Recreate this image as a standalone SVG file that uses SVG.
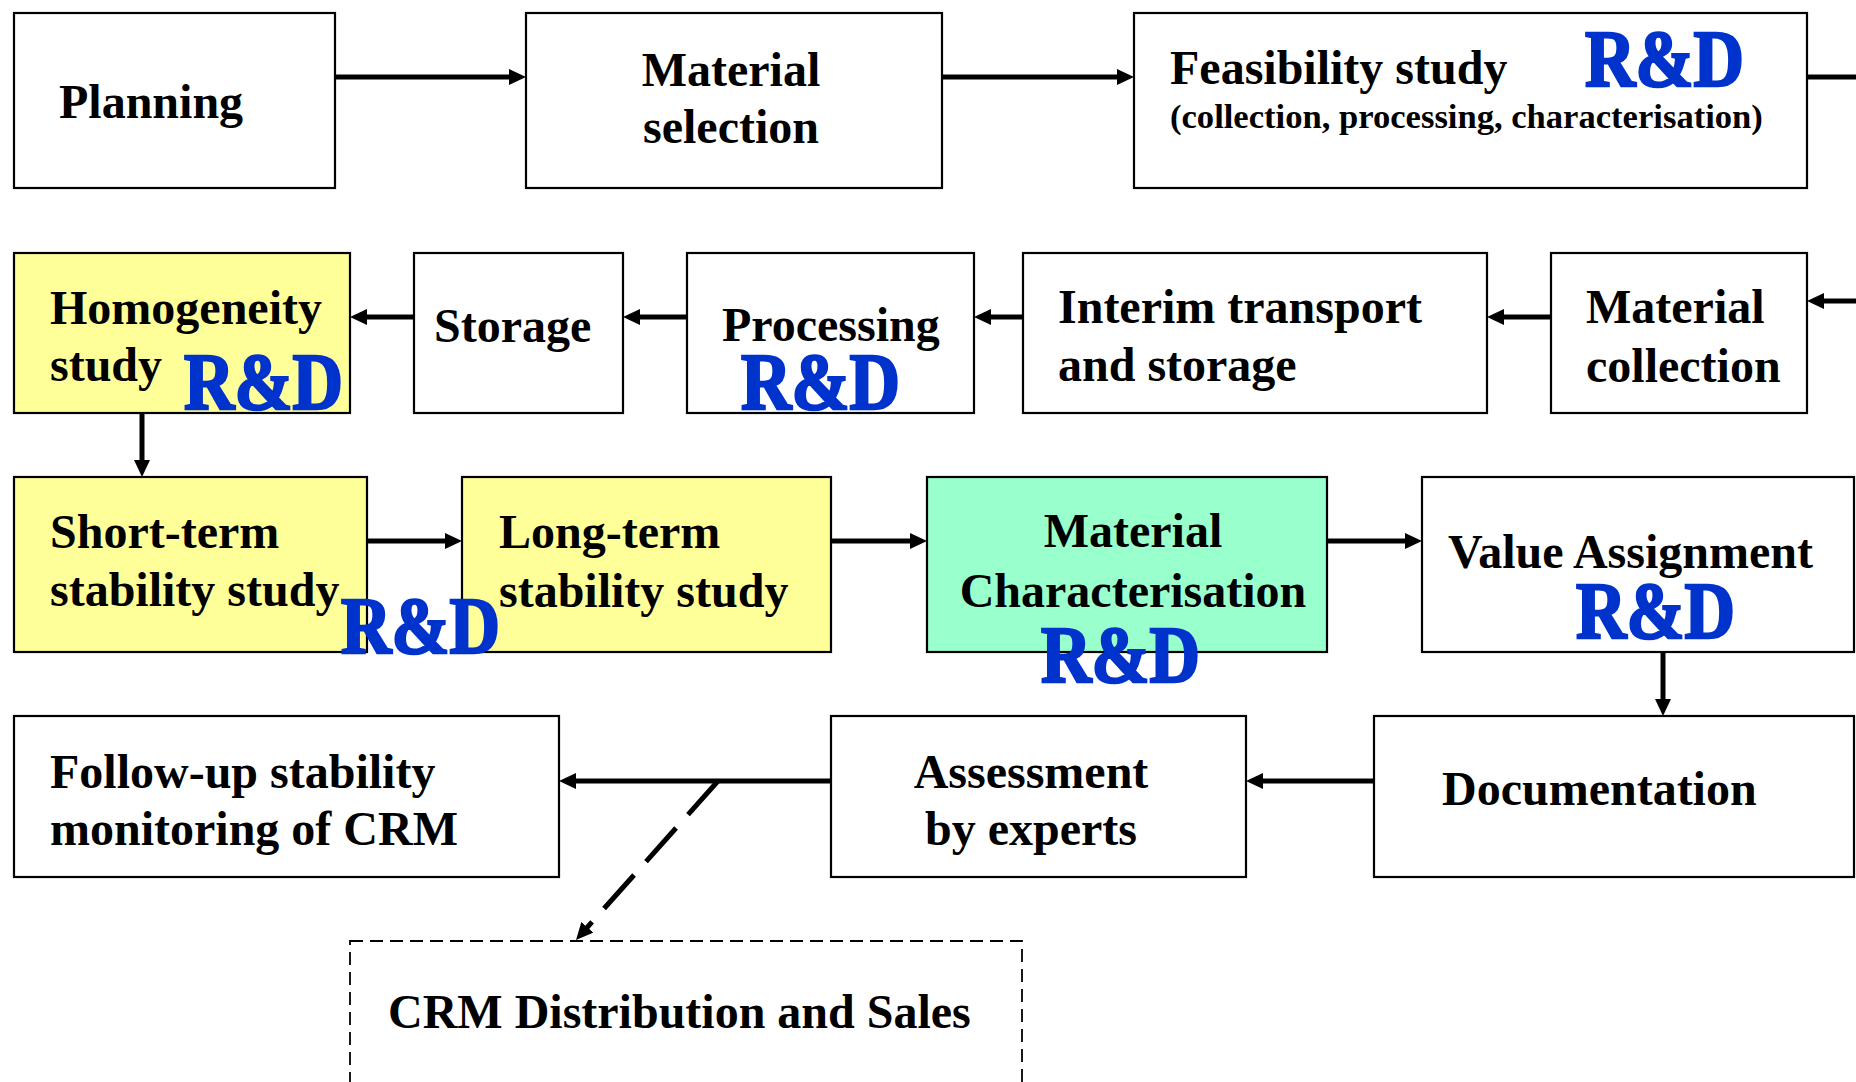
<svg xmlns="http://www.w3.org/2000/svg" width="1856" height="1082" viewBox="0 0 1856 1082">
<style>
.box{fill:#ffffff;stroke:#000;stroke-width:2.2}
.yel{fill:#ffff99}
.grn{fill:#99ffcc}
.dash{fill:#ffffff;stroke:#000;stroke-width:1.8;stroke-dasharray:13 7}
.t{font-family:"Liberation Serif","Times New Roman",serif;font-weight:bold;font-size:48px;fill:#000}
.sub{font-size:34.6px}
.mid{text-anchor:middle}
.rd{font-family:"Liberation Serif","Times New Roman",serif;font-weight:900;font-size:80px;fill:#0033cc;stroke:#0033cc;stroke-width:2.5}
.c{stroke:#000;stroke-width:5;fill:none}
.cd{stroke:#000;stroke-width:5;fill:none;stroke-dasharray:45 18}
</style>
<defs>
<marker id="ah" markerUnits="userSpaceOnUse" markerWidth="18" markerHeight="16" refX="5" refY="8" orient="auto">
<path d="M0,0 L17,8 L0,16 z" fill="#000"/>
</marker>
</defs>
<rect width="1856" height="1082" fill="#ffffff"/>

<g id="connectors">
<line class="c" x1="335" y1="77" x2="514" y2="77" marker-end="url(#ah)"/>
<line class="c" x1="942" y1="77" x2="1122" y2="77" marker-end="url(#ah)"/>
<line class="c" x1="1807" y1="77" x2="1856" y2="77"/>
<line class="c" x1="1856" y1="301" x2="1819" y2="301" marker-end="url(#ah)"/>
<line class="c" x1="1551" y1="317" x2="1499" y2="317" marker-end="url(#ah)"/>
<line class="c" x1="1023" y1="317" x2="986" y2="317" marker-end="url(#ah)"/>
<line class="c" x1="687" y1="317" x2="635" y2="317" marker-end="url(#ah)"/>
<line class="c" x1="414" y1="317" x2="362" y2="317" marker-end="url(#ah)"/>
<line class="c" x1="142" y1="413" x2="142" y2="465" marker-end="url(#ah)"/>
<line class="c" x1="367" y1="541" x2="450" y2="541" marker-end="url(#ah)"/>
<line class="c" x1="831" y1="541" x2="915" y2="541" marker-end="url(#ah)"/>
<line class="c" x1="1327" y1="541" x2="1410" y2="541" marker-end="url(#ah)"/>
<line class="c" x1="1663" y1="652" x2="1663" y2="704" marker-end="url(#ah)"/>
<line class="c" x1="1374" y1="781" x2="1258" y2="781" marker-end="url(#ah)"/>
<line class="c" x1="831" y1="781" x2="571" y2="781" marker-end="url(#ah)"/>
<line class="cd" x1="718" y1="781" x2="584" y2="931" marker-end="url(#ah)"/>
</g>

<g id="planning">
<rect class="box" x="14" y="13" width="321" height="175"/>
<text class="t" x="59" y="118">Planning</text>
</g>
<g id="material-selection">
<rect class="box" x="526" y="13" width="416" height="175"/>
<text class="t mid" x="731" y="86">Material</text>
<text class="t mid" x="731" y="143">selection</text>
</g>
<g id="feasibility-study">
<rect class="box" x="1134" y="13" width="673" height="175"/>
<text class="t" x="1170" y="84">Feasibility study</text>
<text class="t sub" x="1170" y="128">(collection, processing, characterisation)</text>
<text class="rd" x="1585" y="86" textLength="159" lengthAdjust="spacingAndGlyphs">R&amp;D</text>
</g>

<g id="homogeneity-study">
<rect class="box yel" x="14" y="253" width="336" height="160"/>
<text class="t" x="50" y="324">Homogeneity</text>
<text class="t" x="50" y="381">study</text>
<text class="rd" x="184" y="409" textLength="159" lengthAdjust="spacingAndGlyphs">R&amp;D</text>
</g>
<g id="storage">
<rect class="box" x="414" y="253" width="209" height="160"/>
<text class="t" x="434" y="342">Storage</text>
</g>
<g id="processing">
<rect class="box" x="687" y="253" width="287" height="160"/>
<text class="t" x="722" y="341">Processing</text>
<text class="rd" x="741" y="409" textLength="159" lengthAdjust="spacingAndGlyphs">R&amp;D</text>
</g>
<g id="interim-transport">
<rect class="box" x="1023" y="253" width="464" height="160"/>
<text class="t" x="1058" y="323">Interim transport</text>
<text class="t" x="1058" y="381">and storage</text>
</g>
<g id="material-collection">
<rect class="box" x="1551" y="253" width="256" height="160"/>
<text class="t" x="1586" y="323">Material</text>
<text class="t" x="1586" y="382">collection</text>
</g>

<g id="short-term-stability">
<rect class="box yel" x="14" y="477" width="353" height="175"/>
<text class="t" x="50" y="548">Short-term</text>
<text class="t" x="50" y="606">stability study</text>
</g>
<g id="long-term-stability">
<rect class="box yel" x="462" y="477" width="369" height="175"/>
<text class="t" x="499" y="548">Long-term</text>
<text class="t" x="499" y="607">stability study</text>
</g>
<g id="short-term-rd">
<text class="rd" x="341" y="653" textLength="159" lengthAdjust="spacingAndGlyphs">R&amp;D</text>
</g>
<g id="material-characterisation">
<rect class="box grn" x="927" y="477" width="400" height="175"/>
<text class="t mid" x="1133" y="547">Material</text>
<text class="t mid" x="1133" y="607">Characterisation</text>
<text class="rd" x="1041" y="682" textLength="159" lengthAdjust="spacingAndGlyphs">R&amp;D</text>
</g>
<g id="value-assignment">
<rect class="box" x="1422" y="477" width="432" height="175"/>
<text class="t" x="1448" y="568">Value Assignment</text>
<text class="rd" x="1576" y="638" textLength="159" lengthAdjust="spacingAndGlyphs">R&amp;D</text>
</g>

<g id="follow-up">
<rect class="box" x="14" y="716" width="545" height="161"/>
<text class="t" x="50" y="788">Follow-up stability</text>
<text class="t" x="50" y="845">monitoring of CRM</text>
</g>
<g id="assessment">
<rect class="box" x="831" y="716" width="415" height="161"/>
<text class="t mid" x="1031" y="788">Assessment</text>
<text class="t mid" x="1031" y="845">by experts</text>
</g>
<g id="documentation">
<rect class="box" x="1374" y="716" width="480" height="161"/>
<text class="t" x="1442" y="805">Documentation</text>
</g>
<g id="crm-distribution">
<rect class="dash" x="350" y="941" width="672" height="160"/>
<text class="t" x="388" y="1028">CRM Distribution and Sales</text>
</g>
</svg>
